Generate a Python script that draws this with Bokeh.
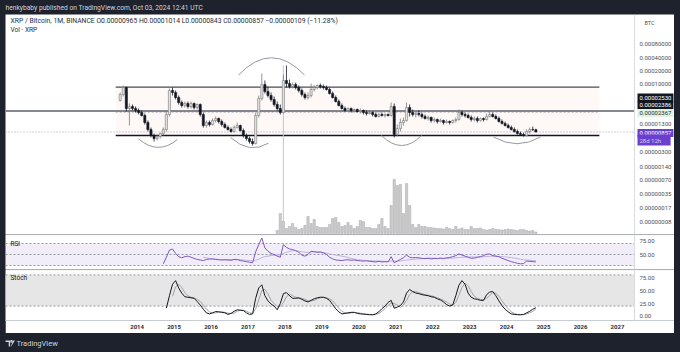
import numpy as np
import pandas as pd
from bokeh.plotting import figure
from bokeh.models import (Range1d, FixedTicker, PrintfTickFormatter, Label, Span,
                          ColumnDataSource, Spacer, LinearScale)
from bokeh.layouts import column, row
from bokeh.embed import file_html
from bokeh.resources import INLINE

FONT = "Roboto"
DARK = "#1e222d"

# ---------------- data (prices in satoshi = 1e-8 BTC) ----------------
first_month = "2013-07"
open_sat = [4368, 5958, 8561, 2886, 3201, 2886, 2603, 2347, 2009, 1398,
            973, 714, 611, 677, 791, 973, 2116, 7329, 6608, 5101,
            3938, 3371, 3739, 3201, 3739, 3040, 3551, 2116, 1197, 1398,
            1261, 1551, 1720, 1473, 1261, 1080, 973, 878, 1080, 1197,
            924, 714, 611, 523, 471, 2009, 4844, 10000, 6960, 5658,
            4600, 3551, 2886, 2347, 12300, 10530, 9016, 10000, 8561, 7329,
            5958, 5101, 5658, 7719, 8561, 9496, 9016, 8561, 7719, 6275,
            5101, 4147, 3371, 2886, 2603, 2886, 2603, 2741, 2471, 2603,
            2347, 2228, 2347, 2116, 1908, 2116, 2009, 2116, 2009, 3201,
            751, 1025, 1398, 1551, 3040, 2347, 2116, 2228, 2116, 1908,
            1720, 1812, 1551, 1633, 1473, 1551, 1398, 1473, 1398, 1551,
            1633, 2347, 2116, 2009, 1812, 1633, 1720, 1551, 1720, 1633,
            1908, 2116, 1908, 1720, 1473, 1328, 1197, 1080, 973, 878,
            791, 751, 714, 878, 973, 965]
high_sat = [6608, 9496, 9016, 3739, 3551, 3201, 2886, 2603, 2228, 1551,
            1080, 791, 751, 833, 1080, 2603, 8129, 8561, 7329, 5658,
            4368, 4147, 4147, 4147, 3938, 3739, 3739, 2347, 1551, 1551,
            1720, 1908, 1812, 1633, 1398, 1197, 1080, 1197, 1398, 1261,
            1025, 791, 677, 611, 2347, 5658, 17660, 12300, 9016, 6608,
            5372, 4147, 3551, 16770, 26720, 12950, 11090, 11090, 9496, 8129,
            6608, 6608, 10530, 9496, 10000, 10530, 10000, 9496, 8561, 6960,
            5658, 4600, 3739, 3201, 3040, 3040, 2886, 2886, 2886, 2741,
            2603, 2603, 2471, 2347, 2347, 2347, 2228, 2228, 3938, 3739,
            1261, 1720, 1812, 3938, 3551, 2741, 2471, 2603, 2347, 2116,
            2009, 1908, 1812, 1720, 1720, 1633, 1633, 1551, 1633, 1812,
            2741, 2603, 2347, 2228, 2009, 1908, 1908, 1812, 1812, 2228,
            2603, 2347, 2116, 1908, 1633, 1473, 1328, 1197, 1080, 973,
            878, 833, 973, 1080, 1137, 1014]
low_sat = [4147, 5372, 2471, 1197, 2603, 2347, 2116, 1908, 1261, 878,
           643, 523, 551, 611, 714, 878, 1908, 5658, 4600, 3551,
           3040, 3040, 2886, 2886, 2741, 2741, 1908, 1080, 1080, 1137,
           1197, 1398, 1328, 1137, 1025, 924, 833, 833, 1025, 878,
           643, 551, 471, 425, 448, 1812, 4368, 6275, 5101, 4147,
           3201, 2603, 2116, 2228, 8561, 8129, 8129, 7719, 6608, 5372,
           4600, 4600, 5101, 6960, 7719, 8129, 7719, 7329, 5958, 4844,
           3938, 3201, 2741, 2471, 2471, 2347, 2347, 2347, 2228, 2116,
           2009, 2116, 1908, 1812, 1812, 1908, 1812, 1908, 1908, 643,
           677, 878, 1197, 1473, 1908, 1908, 1812, 1908, 1720, 1633,
           1551, 1398, 1398, 1328, 1398, 1261, 1328, 1261, 1328, 1398,
           1551, 1908, 1812, 1720, 1473, 1473, 1398, 1473, 1473, 1551,
           1812, 1812, 1633, 1398, 1261, 1137, 1025, 924, 833, 751,
           714, 677, 677, 791, 900, 843]
close_sat = [5958, 8561, 2886, 3201, 2886, 2603, 2347, 2009, 1398, 973,
             714, 611, 677, 791, 973, 2116, 7329, 6608, 5101, 3938,
             3371, 3739, 3201, 3739, 3040, 3551, 2116, 1197, 1398, 1261,
             1551, 1720, 1473, 1261, 1080, 973, 878, 1080, 1197, 924,
             714, 611, 523, 471, 2009, 4844, 10000, 6960, 5658, 4600,
             3551, 2886, 2347, 12300, 10530, 9016, 10000, 8561, 7329, 5958,
             5101, 5658, 7719, 8561, 9496, 9016, 8561, 7719, 6275, 5101,
             4147, 3371, 2886, 2603, 2886, 2603, 2741, 2471, 2603, 2347,
             2228, 2347, 2116, 1908, 2116, 2009, 2116, 2009, 3201, 751,
             1025, 1398, 1551, 3040, 2347, 2116, 2228, 2116, 1908, 1720,
             1812, 1551, 1633, 1473, 1551, 1398, 1473, 1398, 1551, 1633,
             2347, 2116, 2009, 1812, 1633, 1720, 1551, 1720, 1633, 1908,
             2116, 1908, 1720, 1473, 1328, 1197, 1080, 973, 878, 791,
             751, 714, 878, 973, 965, 857]

vol_first = 51   # month index of first volume bar
volume = [3, 20, 12, 5, 7, 10, 6, 4, 5, 8,
          17, 10, 14, 7, 6, 6, 6, 9, 15, 16,
          11, 7, 8, 11, 8, 5, 7, 13, 12, 6,
          6, 5, 5, 9, 15, 7, 5, 28, 54, 48,
          49, 20, 50, 28, 9, 6, 9, 7, 7,
          6, 6, 5.5, 5, 5, 4.5, 6, 5, 4, 7,
          4.5, 5.5, 4, 4, 7, 5, 5, 5.5, 4, 3.5,
          4, 5, 4, 4, 3.5, 4, 4.5, 4, 3.5, 3,
          4, 4, 3, 2.5, 3, 1.5]

rsi_first = 14
rsi = [33, 45, 58, 60, 52, 46, 44, 46, 47, 45,
       43, 41, 40, 39, 41, 41.5, 42, 41, 40.5, 40,
       40.5, 40, 39.5, 41, 41, 39, 38, 37, 36, 35,
       55, 68, 80, 62, 56, 52, 50, 47, 45, 68,
       63, 60, 59, 57, 54, 49, 47, 50, 56, 55,
       54, 54.5, 53, 50, 45, 42, 40, 39.5, 39, 40,
       40.5, 39.5, 40, 39, 38.5, 38, 38.5, 37.5, 37, 36.5,
       37.5, 36.5, 37, 36.5, 46, 35, 38, 41, 44, 49,
       45, 44, 44.5, 44, 43, 42.5, 43, 42, 43, 42.5,
       43.5, 42.5, 44, 44.5, 46, 48, 51, 49, 47, 45,
       43, 43.5, 45, 46, 48, 50.5, 51, 48, 47, 46,
       43, 41, 39, 37, 35.5, 34, 33, 33.5, 38, 37.5,
       37, 36.5]
rsi_ma_first = 27
rsi_ma = [45, 44, 43, 42, 41.5, 41, 40.5, 40.5, 40.5, 40.5,
          40.5, 40.5, 40.5, 40, 39.5, 39, 38.5, 39.5, 41.5, 44.5,
          46, 47, 48, 48.5, 49, 49.5, 52, 54, 55.5, 57,
          57, 56, 55, 54, 54, 54.5, 55, 55, 54.5, 53.5,
          52.5, 51, 50, 49, 48, 47, 46, 44.5, 43, 41.5,
          40.5, 40, 39.5, 39, 38.8, 38.5, 38.2, 38, 37.8, 37.5,
          37.3, 38, 38, 38, 38.5, 39, 40, 40.5, 41, 41.5,
          42, 42.5, 43, 43.5, 43.5, 43, 43, 43, 43, 43,
          43, 43.5, 44, 44.5, 45, 45.3, 45.5, 45.5, 45.5, 45.5,
          45.7, 46, 46.3, 46.6, 46.8, 46.8, 46.5, 46, 45.5, 45,
          44.3, 43.5, 42.5, 41.5, 40.5, 40, 39.5, 39, 38.5]

stoch_k_first = 15
stoch_k = [16, 40, 62, 69, 55, 45, 38, 37, 36, 35,
           29, 22, 14, 7, 5, 7, 9.5, 9, 8, 7,
           4, 6, 10, 13, 12, 11.5, 7, 4, 5, 35,
           55, 61, 40, 30, 24, 20, 13, 25, 44, 46,
           40, 35, 35, 36, 33, 30, 28, 31, 34, 36,
           37, 37, 35, 31, 23, 15, 9, 5, 6, 7,
           8, 8, 6, 5, 4.5, 4, 3.5, 3.3, 5, 9,
           15, 20, 27, 31, 16, 18, 21, 28, 45, 52,
           48, 45, 44, 42, 41, 40, 38, 37, 34, 32,
           28, 23, 20, 22, 40, 60, 69, 62, 45, 37,
           34, 33, 31, 31, 42, 47, 48, 40, 30, 21,
           14, 9, 5, 4, 3.5, 3.3, 4, 7, 10, 14,
           17]
stoch_d_first = 17
stoch_d = [39, 57, 62, 56, 46, 40, 37, 36, 33, 29,
           22, 14, 9, 6.5, 7, 8.5, 9, 8, 6.5, 5.5,
           6.5, 10, 12, 12, 10, 7.5, 5.5, 15, 32, 50,
           52, 44, 31, 25, 19, 19, 27, 38, 43, 40,
           37, 35, 35, 33, 30, 30, 31, 34, 36, 37,
           36, 34, 30, 23, 16, 10, 7, 6, 7, 7.5,
           7.5, 6.5, 5, 4.5, 4, 3.6, 4, 6, 10, 15,
           21, 26, 25, 22, 18, 22, 31, 42, 48, 48,
           46, 44, 42, 41, 40, 38, 36, 34, 31, 28,
           24, 22, 27, 41, 56, 64, 59, 48, 39, 35,
           33, 32, 35, 40, 46, 45, 39, 30, 22, 15,
           9, 6, 4, 3.6, 3.6, 5, 7, 10, 14]

year_ticks = list(range(2014, 2028))
price_ticks = [0.0008, 0.0004, 0.0002, 0.0001, 0.000013, 0.000003,
               0.0000014, 0.0000007, 0.00000035, 0.00000017, 0.00000008]
rsi_ticks = [50, 75]
stoch_ticks = [0, 25, 50, 75]
rsi_levels = [70, 50, 30]
stoch_levels = [80, 20]

# drawings (decimal year, satoshi)
box_start, box_end = 2013.42, 2026.51
box_top_sat, box_mid_sat, box_bottom_sat = 8700, 2386, 714
level_sat = 2530
vline_year, vline_top_sat, vline_bottom_sat = 2017.958, 26720, 4.6
arcs = [  # (t0, p0, t1, p1, tc, pc)
    (2014.04, 600, 2015.09, 580, 2014.565, 254),
    (2016.53, 640, 2017.556, 480, 2017.04, 267),
    (2016.744, 16350, 2018.53, 16350, 2017.64, 97500),
    (2020.614, 714, 2021.697, 714, 2021.16, 254),
    (2023.645, 661, 2024.917, 661, 2024.28, 329),
]
legend_text = ("XRP / Bitcoin, 1M, BINANCE  O0.00000965  H0.00001014  "
               "L0.00000843  C0.00000857  \u22120.00000109 (\u221211.28%)")

# ---------------- derived ----------------
SAT = 1e-8
months = pd.period_range(first_month, periods=len(close_sat), freq="M")
t = np.array([p.year + (p.month - 1) / 12 + 1 / 24 for p in months])
o = np.array(open_sat) * SAT
h = np.array(high_sat) * SAT
l = np.array(low_sat) * SAT
c = np.array(close_sat) * SAT
up = c >= o

W = 669                      # pane width (frame covers the price-scale column too)
PX_PER_YEAR = 36.95
X0 = 2010.438
X_AX = 2027.461              # where the price scale starts
X1 = X0 + W / PX_PER_YEAR


def base_fig(height, y_range, log=False, bottom=0, xaxis=False):
    p = figure(width=W, height=height, x_range=Range1d(X0, X1), y_range=y_range,
               y_axis_type="log" if log else "linear", y_axis_location="right",
               x_axis_location="below" if xaxis else None,
               output_backend="svg", toolbar_location=None,
               min_border_left=0, min_border_right=0, min_border_top=0,
               min_border_bottom=bottom, background_fill_color="white",
               border_fill_color="white", outline_line_color=None)
    p.xgrid.visible = False
    p.ygrid.visible = False
    ax = p.yaxis[0]
    ax.fixed_location = X_AX
    ax.major_tick_line_color = None
    ax.minor_tick_line_color = None
    ax.major_tick_out = 0
    ax.major_tick_in = 0
    ax.axis_line_color = "#d9dbe2"
    ax.major_label_text_font = FONT
    ax.major_label_text_font_size = "6px"
    ax.major_label_text_color = "#4c4f59"
    ax.major_label_standoff = 5
    return p


def lab(p, x, y, text, size="6.5px", color="#131722", **kw):
    p.add_layout(Label(x=x, y=y, x_units="screen", y_units="screen", text=text,
                       text_font=FONT, text_font_size=size, text_color=color,
                       text_baseline="middle", **kw))


def hline(p, y, **kw):
    p.segment(x0=[X0], y0=[y], x1=[X_AX], y1=[y], **kw)


def separator(p, y):
    p.add_layout(Span(location=y, dimension="width", line_color="#e0e3eb", line_width=1))


# ---------------- main pane ----------------
main = base_fig(220, Range1d(4.26e-8, 3.74e-3), log=True)
main.yaxis.ticker = FixedTicker(ticks=price_ticks)
main.yaxis.formatter = PrintfTickFormatter(format="%.8f")
main.extra_y_ranges = {"vol": Range1d(-max(volume) / 54, max(volume) * 219 / 54)}
main.extra_y_scales = {"vol": LinearScale()}

main.quad(left=[box_start], right=[box_end], bottom=[box_bottom_sat * SAT],
          top=[box_top_sat * SAT], fill_color="#fef8f6", line_color=None)
main.segment(x0=[box_start], y0=[box_mid_sat * SAT], x1=[box_end], y1=[box_mid_sat * SAT],
             line_color="#b2b5be", line_width=1, line_dash="2 2")
hline(main, level_sat * SAT, line_color="#5d606b", line_width=1.4)
hline(main, c[-1], line_color="#a79fc6", line_width=1, line_dash="1 2")
main.segment(x0=[box_start], y0=[box_top_sat * SAT], x1=[box_end], y1=[box_top_sat * SAT],
             line_color="#4a4d57", line_width=1.3)
main.segment(x0=[box_start], y0=[box_bottom_sat * SAT], x1=[box_end],
             y1=[box_bottom_sat * SAT], line_color="#131722", line_width=1.3)
main.segment(x0=[vline_year], y0=[vline_top_sat * SAT], x1=[vline_year],
             y1=[vline_bottom_sat * SAT], line_color="#c3c5cc", line_width=1)

vt = t[vol_first:vol_first + len(volume)]
main.vbar(x=vt, width=0.062, top=volume, bottom=0, y_range_name="vol",
          fill_color="#cbcbcb", line_color="#a8a8a8", line_width=0.5)

csrc = ColumnDataSource(dict(
    t=t, o=o, h=h, l=l, c=c,
    top=np.maximum(o, c), bot=np.minimum(o, c),
    fill=np.where(up, "#e4e4e4", "#131722"),
    line=np.where(up, "#7a7a7a", "#131722")))
main.segment(x0="t", y0="l", x1="t", y1="h", line_color="line", line_width=0.8, source=csrc)
main.vbar(x="t", width=0.058, top="top", bottom="bot", fill_color="fill",
          line_color="line", line_width=0.6, source=csrc)

for (t0, p0, t1, p1, tc, pc) in arcs:
    main.quadratic(x0=[t0], y0=[p0 * SAT], x1=[t1], y1=[p1 * SAT], cx=[tc], cy=[pc * SAT],
                   line_color="#9598a1", line_width=1)

lab(main, 5, 214, legend_text, size="6.8px", color="#2a2e39")
lab(main, 5, 204.5, "Vol \u00b7 XRP", size="6.6px", color="#2a2e39")
lab(main, 639, 212, "BTC", size="5.5px", color="#4c4f59")
badges = [("0.00002530", 137, "#131722", "white"),
          ("0.00002386", 129.5, "#131722", "white"),
          ("0.00002367", 121.5, "#dff2df", "#2a2e39"),
          ("0.00000857", 101.5, "#6a3fcf", "white"),
          ("28d 12h     ", 94.5, "#6a3fcf", "#d8ccf5")]
for text, sy, bg, fg in badges:
    lab(main, 632, sy, text, size="6px", color=fg, background_fill_color=bg,
        background_fill_alpha=1.0, padding=2)

# ---------------- RSI pane ----------------
rsi_fig = base_fig(35, Range1d(22.7, 86.4))
rsi_fig.yaxis.ticker = FixedTicker(ticks=rsi_ticks)
rsi_fig.yaxis.formatter = PrintfTickFormatter(format="%.2f")
rsi_fig.quad(left=[X0], right=[X_AX], bottom=[min(rsi_levels)], top=[max(rsi_levels)],
             fill_color="#7e57c2", fill_alpha=0.1, line_color=None)
for lv in rsi_levels:
    hline(rsi_fig, lv, line_color="#9598a1", line_width=1, line_dash="2 2")
separator(rsi_fig, 86.0)
rsi_fig.line(t[rsi_ma_first:rsi_ma_first + len(rsi_ma)], rsi_ma, line_color="#bfb2de",
             line_width=1)
rsi_fig.line(t[rsi_first:rsi_first + len(rsi)], rsi, line_color="#7e57c2", line_width=1)
lab(rsi_fig, 5, 26, "RSI", size="6.5px")

# ---------------- Stoch pane + time axis ----------------
st = base_fig(64, Range1d(-7.7, 90.4), bottom=13, xaxis=True)
st.yaxis.ticker = FixedTicker(ticks=stoch_ticks)
st.yaxis.formatter = PrintfTickFormatter(format="%.2f")
xa = st.xaxis[0]
xa.ticker = FixedTicker(ticks=year_ticks)
xa.formatter = PrintfTickFormatter(format="%d")
xa.major_tick_line_color = None
xa.minor_tick_line_color = None
xa.major_tick_out = 0
xa.major_tick_in = 0
xa.axis_line_color = "#c9cbd2"
xa.major_label_text_font = FONT
xa.major_label_text_font_size = "6px"
xa.major_label_text_font_style = "bold"
xa.major_label_text_color = "#2a2e39"
xa.major_label_standoff = 4
st.quad(left=[X0], right=[X_AX], bottom=[min(stoch_levels)], top=[max(stoch_levels)],
        fill_color="#e6e6e6", line_color=None)
for lv in stoch_levels:
    hline(st, lv, line_color="#9598a1", line_width=1, line_dash="2 2")
separator(st, 89.9)
st.line(t[stoch_d_first:stoch_d_first + len(stoch_d)], stoch_d, line_color="#a3a3a3",
        line_width=1)
st.line(t[stoch_k_first:stoch_k_first + len(stoch_k)], stoch_k, line_color="#131722",
        line_width=1)
lab(st, 5, 42.5, "Stoch", size="6.5px")


# ---------------- frame: header / footer ----------------
def dark_fig(width, height, xr, yr):
    p = figure(width=width, height=height, x_range=xr, y_range=yr,
               x_axis_location=None, y_axis_location=None, output_backend="svg",
               toolbar_location=None, min_border=0, background_fill_color=DARK,
               border_fill_color=DARK, outline_line_color=None)
    p.xgrid.visible = False
    p.ygrid.visible = False
    return p


hdr = dark_fig(680, 14, Range1d(0, 680), Range1d(0, 14))
lab(hdr, 5, 7, "henkybaby published on TradingView.com, Oct 03, 2024 12:41 UTC",
    size="6.7px", color="#d1d4dc")

ftr = dark_fig(680, 19, Range1d(0, 680), Range1d(352, 333))
ftr.patches(xs=[[5, 9.6, 9.6, 8.2, 8.2, 5], [10.6, 14.4, 12.6, 10.2]],
            ys=[[340, 340, 346, 346, 341.6, 341.6], [346, 340, 340, 346]],
            fill_color="#d1d4dc", line_color=None)
ftr.scatter(x=[11.0], y=[340.9], size=2.6, fill_color="#d1d4dc", line_color=None)
lab(ftr, 16, 9.5, "TradingView", size="7.5px", color="#d1d4dc")

panes = column(main, rsi_fig, st, spacing=0)
mid = row(Spacer(width=5, height=319), panes, Spacer(width=6, height=319), spacing=0)
root = column(hdr, mid, ftr, spacing=0, styles={"background-color": DARK})

open("out.html", "w").write(file_html(root, INLINE))
